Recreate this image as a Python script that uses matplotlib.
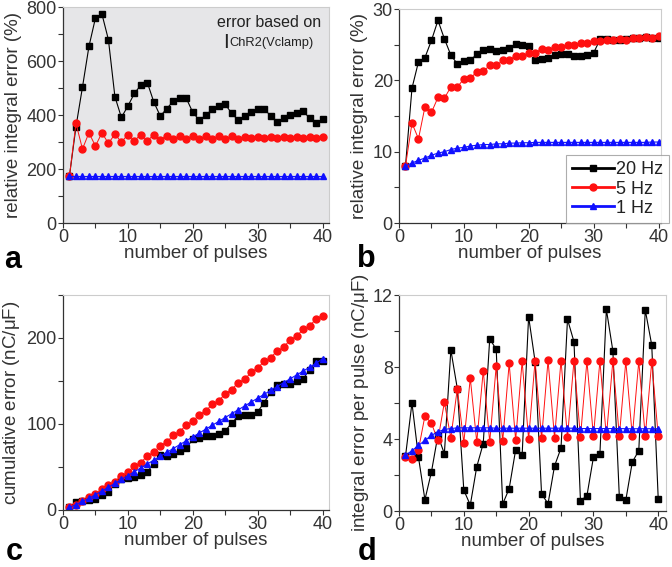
import numpy as np
import matplotlib
matplotlib.use('Agg')
import matplotlib.pyplot as plt
from matplotlib.ticker import MultipleLocator

plt.rcParams['font.family'] = ['Liberation Sans', 'DejaVu Sans']
plt.rcParams['mathtext.fontset'] = 'custom'
plt.rcParams['mathtext.rm'] = 'Liberation Sans'

pulses = list(range(1, 41))
labels = ['20 Hz', '5 Hz', '1 Hz']

# panel a: relative integral error (%), based on I_ChR2(Vclamp)
a_20hz = [175, 357, 503, 654, 759, 774, 679, 468, 391, 433,
          480, 511, 520, 448, 396, 424, 451, 464, 462, 410,
          381, 399, 421, 433, 440, 406, 381, 396, 411, 421,
          424, 396, 374, 389, 400, 409, 414, 389, 371, 384]
a_5hz = [175, 369, 274, 334, 285, 334, 295, 329, 300, 327,
         305, 327, 305, 326, 308, 324, 310, 324, 310, 323,
         311, 322, 312, 322, 312, 321, 312, 320, 313, 320,
         313, 320, 313, 319, 313, 319, 313, 318, 314, 318]
a_1hz = [175] * 40

# panel b: relative integral error (%)
b_20hz = [8.0, 18.9, 22.6, 23.2, 25.6, 28.4, 25.8, 23.5, 22.3, 22.7,
          22.8, 23.7, 24.3, 24.4, 24.1, 24.2, 24.5, 25.1, 24.9, 24.8,
          22.9, 23.0, 23.1, 23.5, 23.7, 23.7, 23.4, 23.4, 23.6, 23.9,
          25.8, 25.8, 25.6, 25.6, 25.8, 25.9, 26.0, 26.1, 25.9, 25.9]
b_5hz = [8.0, 14.0, 11.8, 16.3, 15.5, 17.6, 17.5, 19.1, 19.1, 20.2,
         20.3, 21.2, 21.3, 22.1, 22.1, 22.8, 22.9, 23.4, 23.4, 23.9,
         23.9, 24.4, 24.3, 24.7, 24.7, 25.0, 25.0, 25.2, 25.2, 25.5,
         25.5, 25.7, 25.6, 25.8, 25.7, 26.0, 26.0, 26.1, 26.0, 26.2]
b_1hz = [8.0, 8.4, 8.8, 9.1, 9.5, 9.8, 10.0, 10.3, 10.5, 10.6,
         10.8, 10.9, 11.0, 11.0, 11.1, 11.1, 11.2, 11.2, 11.25, 11.25,
         11.3, 11.3, 11.3, 11.3, 11.3, 11.3, 11.3, 11.3, 11.3, 11.3,
         11.3, 11.3, 11.3, 11.3, 11.3, 11.3, 11.3, 11.3, 11.35, 11.35]

# panel c: cumulative error (nC/uF)
c_20hz = [3, 8.9, 10.8, 11.6, 13, 17.8, 21, 30, 35.6, 37,
          38.7, 41, 44.5, 54, 63.4, 62.7, 65, 68.5, 72, 82,
          84.3, 86, 86, 88, 92, 101, 109, 110, 110.6, 114,
          125, 137, 145.5, 146, 147, 150, 152.4, 163, 173, 173]
c_5hz = [3, 6, 10, 15, 19, 24, 29, 33, 40, 44,
         51, 55, 63, 67, 75, 79, 87, 91, 99, 103,
         111, 115, 123, 127, 135, 140, 148, 152, 160, 165,
         173, 177, 185, 189, 198, 202, 210, 214, 222, 226]
c_1hz = [3, 6.3, 10, 13.6, 17.8, 22, 26.5, 31, 35.5, 40,
         44.5, 49, 53.5, 58, 62.5, 67, 71.5, 76, 80.5, 85,
         89.5, 94, 98.5, 103, 107.5, 112, 116.5, 121, 125.5, 130,
         134.5, 139, 143.5, 148, 152.5, 157, 161.5, 166, 170.5, 176]

# panel d: integral error per pulse (nC/uF)
d_20hz = [3.03, 6.0, 3.0, 0.63, 2.16, 4.2, 3.18, 8.95, 6.8, 1.16,
          0.33, 2.46, 3.75, 9.57, 8.98, 0.39, 1.24, 3.4, 3.1, 10.8,
          8.3, 0.94, 0.41, 2.5, 3.5, 10.65, 9.4, 0.57, 0.85, 2.98,
          3.16, 11.2, 8.9, 0.78, 0.61, 2.72, 3.35, 11.17, 9.22, 0.68]
d_5hz = [3.0, 2.88, 3.4, 5.28, 4.88, 3.92, 6.04, 4.07, 6.8, 3.8,
         7.38, 3.83, 7.8, 3.83, 8.06, 3.88, 8.2, 3.94, 8.32, 3.99,
         8.36, 4.03, 8.37, 4.07, 8.36, 4.1, 8.36, 4.1, 8.34, 4.14,
         8.34, 4.14, 8.34, 4.16, 8.32, 4.16, 8.32, 4.16, 8.3, 4.18]
d_1hz = [3.1, 3.35, 3.64, 3.92, 4.2, 4.4, 4.53, 4.58, 4.62, 4.62,
         4.62, 4.62, 4.62, 4.62, 4.6, 4.6, 4.6, 4.6, 4.6, 4.6,
         4.6, 4.6, 4.6, 4.6, 4.6, 4.6, 4.6, 4.58, 4.58, 4.58,
         4.58, 4.58, 4.58, 4.58, 4.57, 4.57, 4.57, 4.57, 4.57, 4.57]

W, H = 672, 567


def rect(l, t, r, b):
    return [l / W, 1 - b / H, (r - l) / W, (b - t) / H]


def style(ax, xmax, ymax, ymaj, ymin, ylabel, ylpad):
    ax.set_xlim(0, xmax)
    ax.set_ylim(0, ymax)
    ax.xaxis.set_major_locator(MultipleLocator(10))
    ax.xaxis.set_minor_locator(MultipleLocator(5))
    ax.yaxis.set_major_locator(MultipleLocator(ymaj))
    ax.yaxis.set_minor_locator(MultipleLocator(ymin))
    ax.tick_params(which='both', direction='out', length=3.5, width=0.8,
                   colors='#333333', labelsize=13, pad=1)
    for s in ['left', 'bottom']:
        ax.spines[s].set_color('#333333')
        ax.spines[s].set_linewidth(0.9)
    for s in ['top', 'right']:
        ax.spines[s].set_color('#cccccc')
        ax.spines[s].set_linewidth(0.8)
    ax.set_xlabel('number of pulses', fontsize=13.5, color='#333333', labelpad=-1)
    ax.set_ylabel(ylabel, fontsize=13.5, color='#333333', labelpad=ylpad)


def draw(ax, s20, s5, s1):
    ax.plot(pulses, s20, '-s', color='black', lw=0.8, ms=4.2, label=labels[0])
    ax.plot(pulses, s5, '-o', color='#ff1010', lw=0.7, ms=5, label=labels[1])
    ax.plot(pulses, s1, '-^', color='#1010ff', lw=0.8, ms=5, label=labels[2])


def px_text(x, y, s, **kw):
    fig.text(x / W, 1 - y / H, s, **kw)


fig = plt.figure(figsize=(6.72, 5.67), dpi=100)

ax_a = fig.add_axes(rect(63, 7, 329, 223))
ax_a.set_facecolor('#e6e6e8')
draw(ax_a, a_20hz, a_5hz, a_1hz)
style(ax_a, 41, 800, 200, 100, 'relative integral error (%)', 3)
px_text(269.5, 27, 'error based on', ha='center', va='baseline',
        fontsize=11.5, color='#222222')
px_text(223, 48.5, 'I', ha='left', va='baseline', fontsize=15, color='#222222')
px_text(229, 46, 'ChR2(Vclamp)', ha='left', va='baseline', fontsize=9.3,
        color='#222222')

ax_b = fig.add_axes(rect(399, 9, 661, 223))
draw(ax_b, b_20hz, b_5hz, b_1hz)
style(ax_b, 40.35, 30, 10, 5, 'relative integral error (%)', 3)
leg = ax_b.legend(loc='lower right', bbox_to_anchor=(669 / W, 1 - 223 / H),
                  bbox_transform=fig.transFigure, borderaxespad=0,
                  fancybox=False, fontsize=13, handlelength=2.3,
                  handletextpad=0.1, labelspacing=0.12, borderpad=0.35)
leg.get_frame().set_edgecolor('#999999')
leg.get_frame().set_linewidth(0.8)
for t in leg.get_texts():
    t.set_color('#222222')
for h in leg.legend_handles:
    h.set_linewidth(2)

ax_c = fig.add_axes(rect(63, 295, 329, 510))
draw(ax_c, c_20hz, c_5hz, c_1hz)
style(ax_c, 41, 250, 100, 50, r'cumulative error (nC/$\mathregular{\mu}$F)', 3)

ax_d = fig.add_axes(rect(399, 295, 666, 511))
draw(ax_d, d_20hz, d_5hz, d_1hz)
style(ax_d, 41.2, 12, 4, 2, r'integral error per pulse (nC/$\mathregular{\mu}$F)', 1)

for lab, x, y in [('a', 4, 268), ('b', 357, 267), ('c', 6, 560), ('d', 358, 560)]:
    px_text(x, y, lab, fontsize=22, fontweight='bold', ha='left', va='baseline')

fig.savefig('out.png', dpi=100)
